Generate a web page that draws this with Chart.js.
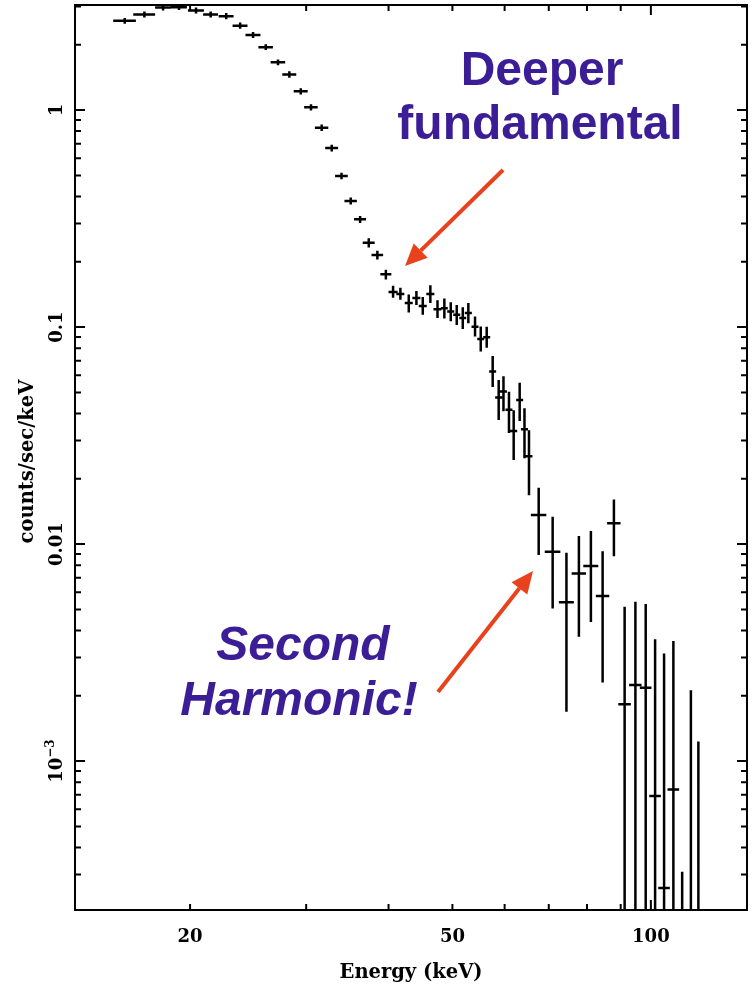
<!DOCTYPE html>
<html lang="en">
<head>
<meta charset="UTF-8">
<title>Energy spectrum</title>
<script src="https://cdn.jsdelivr.net/npm/chart.js@4.4.1/dist/chart.umd.min.js"></script>
<style>
  html, body { margin: 0; padding: 0; background: #fff; }
  #wrap { width: 756px; height: 991px; }
</style>
</head>
<body>
<div id="wrap"><canvas id="spec" width="756" height="991"></canvas></div>
<script>
// bin centres and half widths (keV)
const energy = [15.92, 17.05, 18.20, 19.24, 20.42, 21.49, 22.69, 23.82, 24.92, 26.05,
  27.19, 28.29, 29.44, 30.51, 31.67, 32.80, 33.94, 35.05, 36.22, 37.33,
  38.47, 39.63, 40.64, 41.69, 42.93, 44.09, 45.08, 46.29, 47.46, 48.61,
  49.71, 50.76, 51.84, 52.86, 54.11, 55.20, 56.36, 57.55, 58.77, 59.76,
  60.92, 61.93, 63.24, 64.31, 65.33, 67.58, 70.96, 74.46, 77.77, 81.10,
  84.49, 87.89, 91.24, 94.74, 98.21, 101.49, 104.72, 108.18, 111.55, 115.0, 118.05];
const energyHalf = [0.63, 0.65, 0.50, 0.54, 0.57, 0.56, 0.59, 0.62, 0.65, 0.66,
  0.69, 0.69, 0.72, 0.72, 0.74, 0.74, 0.75, 0.76, 0.76, 0.78,
  0.78, 0.76, 0.64, 0.58, 0.60, 0.62, 0.63, 0.65, 0.66, 0.59,
  0.61, 0.62, 0.63, 0.65, 0.66, 0.67, 0.69, 0.70, 0.72, 0.73,
  0.74, 0.76, 0.77, 0.79, 0.80, 1.82, 1.93, 1.95, 1.95, 2.12,
  1.98, 2.06, 2.00, 2.05, 1.99, 2.05, 2.12, 2.19, 2.26, 2.21, 2.27];

// counts/sec/keV with lower and upper error bounds (null = below the plot)
const counts = [2.58, 2.76, 2.97, 2.98, 2.88, 2.76, 2.71, 2.45, 2.22, 1.95,
  1.66, 1.46, 1.22, 1.03, 0.829, 0.668, 0.497, 0.381, 0.314, 0.245,
  0.215, 0.175, 0.145, 0.142, 0.129, 0.136, 0.125, 0.142, 0.121, 0.122,
  0.118, 0.114, 0.110, 0.116, 0.1005, 0.0881, 0.0899, 0.0624, 0.0474, 0.0505,
  0.0416, 0.0332, 0.0461, 0.0338, 0.0254, 0.0136, 0.00922, 0.00539, 0.00733, 0.00792,
  0.00576, 0.01246, 0.00183, 0.00224, 0.00218, 0.00069, 0.00026, 0.00074, null, null, null];
const countsLow = [2.50, 2.67, 2.88, 2.89, 2.79, 2.67, 2.62, 2.37, 2.15, 1.89,
  1.61, 1.41, 1.18, 0.997, 0.800, 0.645, 0.480, 0.367, 0.302, 0.233,
  0.205, 0.1655, 0.1364, 0.1336, 0.1169, 0.1263, 0.1139, 0.129, 0.110, 0.1096,
  0.1063, 0.1022, 0.0979, 0.1043, 0.0904, 0.0771, 0.0804, 0.0529, 0.0373, 0.0410,
  0.0325, 0.0244, 0.0369, 0.0249, 0.0168, 0.0089, 0.00505, 0.00169, 0.00374, 0.00438,
  0.0023, 0.0088, 0, 0, 0, 0, 0, 0, 0, 0, 0];
const countsHigh = [2.66, 2.85, 3.06, 3.08, 2.97, 2.85, 2.80, 2.53, 2.29, 2.01,
  1.71, 1.51, 1.26, 1.064, 0.858, 0.692, 0.515, 0.396, 0.325, 0.257,
  0.225, 0.184, 0.155, 0.1518, 0.1415, 0.1465, 0.1378, 0.156, 0.133, 0.1356,
  0.1300, 0.1263, 0.1236, 0.1290, 0.1118, 0.1006, 0.1005, 0.0736, 0.0570, 0.0594,
  0.0503, 0.0414, 0.0554, 0.0423, 0.0335, 0.0182, 0.01336, 0.00912, 0.01089, 0.01148,
  0.00928, 0.01607, 0.00514, 0.00542, 0.00529, 0.00364, 0.00313, 0.00358, 0.000309, 0.00212, 0.00123];

const xTickLabels = [20, 50, 100];
const yTickLabels = [1, 0.1, 0.01, 0.001];

const tickFont = 'bold 18px "DejaVu Serif"';
const titleFont = 'bold 19.5px "DejaVu Serif"';
const noteColor = '#3b1d96';
const arrowColor = '#e8411b';

// minor/major ticks of a log axis between min and max
function logTicks(min, max) {
  const out = [];
  for (let e = Math.floor(Math.log10(min)); e <= Math.ceil(Math.log10(max)); e++) {
    for (let m = 1; m <= 9; m++) {
      const v = m * Math.pow(10, e);
      if (v > min * 1.001 && v < max * 0.999) out.push({ v, major: m === 1 });
    }
  }
  return out;
}

function arrow(ctx, x1, y1, x2, y2) {
  const ang = Math.atan2(y2 - y1, x2 - x1);
  const head = 22, half = 10;
  const bx = x2 - head * Math.cos(ang), by = y2 - head * Math.sin(ang);
  ctx.strokeStyle = arrowColor;
  ctx.fillStyle = arrowColor;
  ctx.lineWidth = 4;
  ctx.beginPath();
  ctx.moveTo(x1, y1);
  ctx.lineTo(bx, by);
  ctx.stroke();
  ctx.beginPath();
  ctx.moveTo(x2, y2);
  ctx.lineTo(bx + half * Math.sin(ang), by - half * Math.cos(ang));
  ctx.lineTo(bx - half * Math.sin(ang), by + half * Math.cos(ang));
  ctx.closePath();
  ctx.fill();
}

const spectrumPlot = {
  id: 'spectrumPlot',
  afterDatasetsDraw(chart) {
    const { ctx, chartArea: a, scales: { x, y } } = chart;
    ctx.save();
    ctx.beginPath();
    ctx.rect(a.left, a.top, a.right - a.left, a.bottom - a.top);
    ctx.clip();
    ctx.strokeStyle = '#000';
    ctx.lineWidth = 2.5;
    ctx.beginPath();
    for (let i = 0; i < energy.length; i++) {
      const px = x.getPixelForValue(energy[i]);
      const top = y.getPixelForValue(countsHigh[i]);
      const bot = countsLow[i] > 0 ? y.getPixelForValue(countsLow[i]) : a.bottom;
      ctx.moveTo(px, top);
      ctx.lineTo(px, bot);
      if (counts[i] !== null) {
        const py = y.getPixelForValue(counts[i]);
        ctx.moveTo(x.getPixelForValue(energy[i] - energyHalf[i]), py);
        ctx.lineTo(x.getPixelForValue(energy[i] + energyHalf[i]), py);
      }
    }
    ctx.stroke();
    ctx.restore();
  },
  afterDraw(chart) {
    const { ctx, chartArea: a, scales: { x, y } } = chart;
    ctx.save();
    // frame
    ctx.strokeStyle = '#000';
    ctx.lineWidth = 2;
    ctx.strokeRect(a.left, a.top, a.right - a.left, a.bottom - a.top);
    // inward ticks on all four sides
    ctx.beginPath();
    logTicks(x.min, x.max).forEach(t => {
      const px = x.getPixelForValue(t.v), len = t.major ? 10 : 6;
      ctx.moveTo(px, a.bottom); ctx.lineTo(px, a.bottom - len);
      ctx.moveTo(px, a.top); ctx.lineTo(px, a.top + len);
    });
    logTicks(y.min, y.max).forEach(t => {
      const py = y.getPixelForValue(t.v), len = t.major ? 10 : 6;
      ctx.moveTo(a.left, py); ctx.lineTo(a.left + len, py);
      ctx.moveTo(a.right, py); ctx.lineTo(a.right - len, py);
    });
    ctx.stroke();

    // tick labels and axis titles
    ctx.fillStyle = '#000';
    ctx.font = tickFont;
    ctx.textAlign = 'center';
    ctx.textBaseline = 'alphabetic';
    xTickLabels.forEach(v => ctx.fillText(String(v), x.getPixelForValue(v), 942));
    ctx.font = titleFont;
    ctx.fillText('Energy (keV)', (a.left + a.right) / 2, 978);

    yTickLabels.forEach(v => {
      ctx.save();
      ctx.translate(62, y.getPixelForValue(v));
      ctx.rotate(-Math.PI / 2);
      ctx.font = tickFont;
      if (v >= 0.01) {
        ctx.textAlign = 'center';
        ctx.fillText(String(v), 0, 0);
      } else {
        const exp = '\u2212' + Math.round(-Math.log10(v));
        const w1 = ctx.measureText('10').width;
        ctx.font = 'bold 12px "DejaVu Serif"';
        const w2 = ctx.measureText(exp).width;
        ctx.textAlign = 'left';
        ctx.font = tickFont;
        ctx.fillText('10', -(w1 + w2) / 2, 0);
        ctx.font = 'bold 12px "DejaVu Serif"';
        ctx.fillText(exp, -(w1 + w2) / 2 + w1, -8);
      }
      ctx.restore();
    });

    ctx.save();
    ctx.translate(33, (a.top + a.bottom) / 2 + 4);
    ctx.rotate(-Math.PI / 2);
    ctx.font = titleFont;
    ctx.textAlign = 'center';
    ctx.fillText('counts/sec/keV', 0, 0);
    ctx.restore();

    // annotations
    ctx.fillStyle = noteColor;
    ctx.textAlign = 'center';
    ctx.font = 'bold 48px "Liberation Sans", Arial, sans-serif';
    ctx.fillText('Deeper', 542, 85);
    ctx.fillText('fundamental', 540, 139);
    ctx.font = 'italic bold 48px "Liberation Sans", Arial, sans-serif';
    ctx.fillText('Second', 303, 660);
    ctx.fillText('Harmonic!', 299, 715);

    arrow(ctx, 503, 170, 405, 266);
    arrow(ctx, 438, 692, 533, 571);
    ctx.restore();
  }
};

new Chart(document.getElementById('spec'), {
  type: 'scatter',
  data: {
    datasets: [{
      label: 'spectrum',
      data: energy.map((e, i) => ({ x: e, y: counts[i] })),
      pointRadius: 0,
      showLine: false
    }]
  },
  options: {
    responsive: false,
    animation: false,
    devicePixelRatio: 1,
    layout: { padding: { left: 75, top: 5, right: 9, bottom: 81 } },
    plugins: { legend: { display: false }, tooltip: { enabled: false } },
    scales: {
      x: { type: 'logarithmic', min: 13.38, max: 139.9, display: false },
      y: { type: 'logarithmic', min: 2.06e-4, max: 3.05, display: false }
    }
  },
  plugins: [spectrumPlot]
});
</script>
</body>
</html>
